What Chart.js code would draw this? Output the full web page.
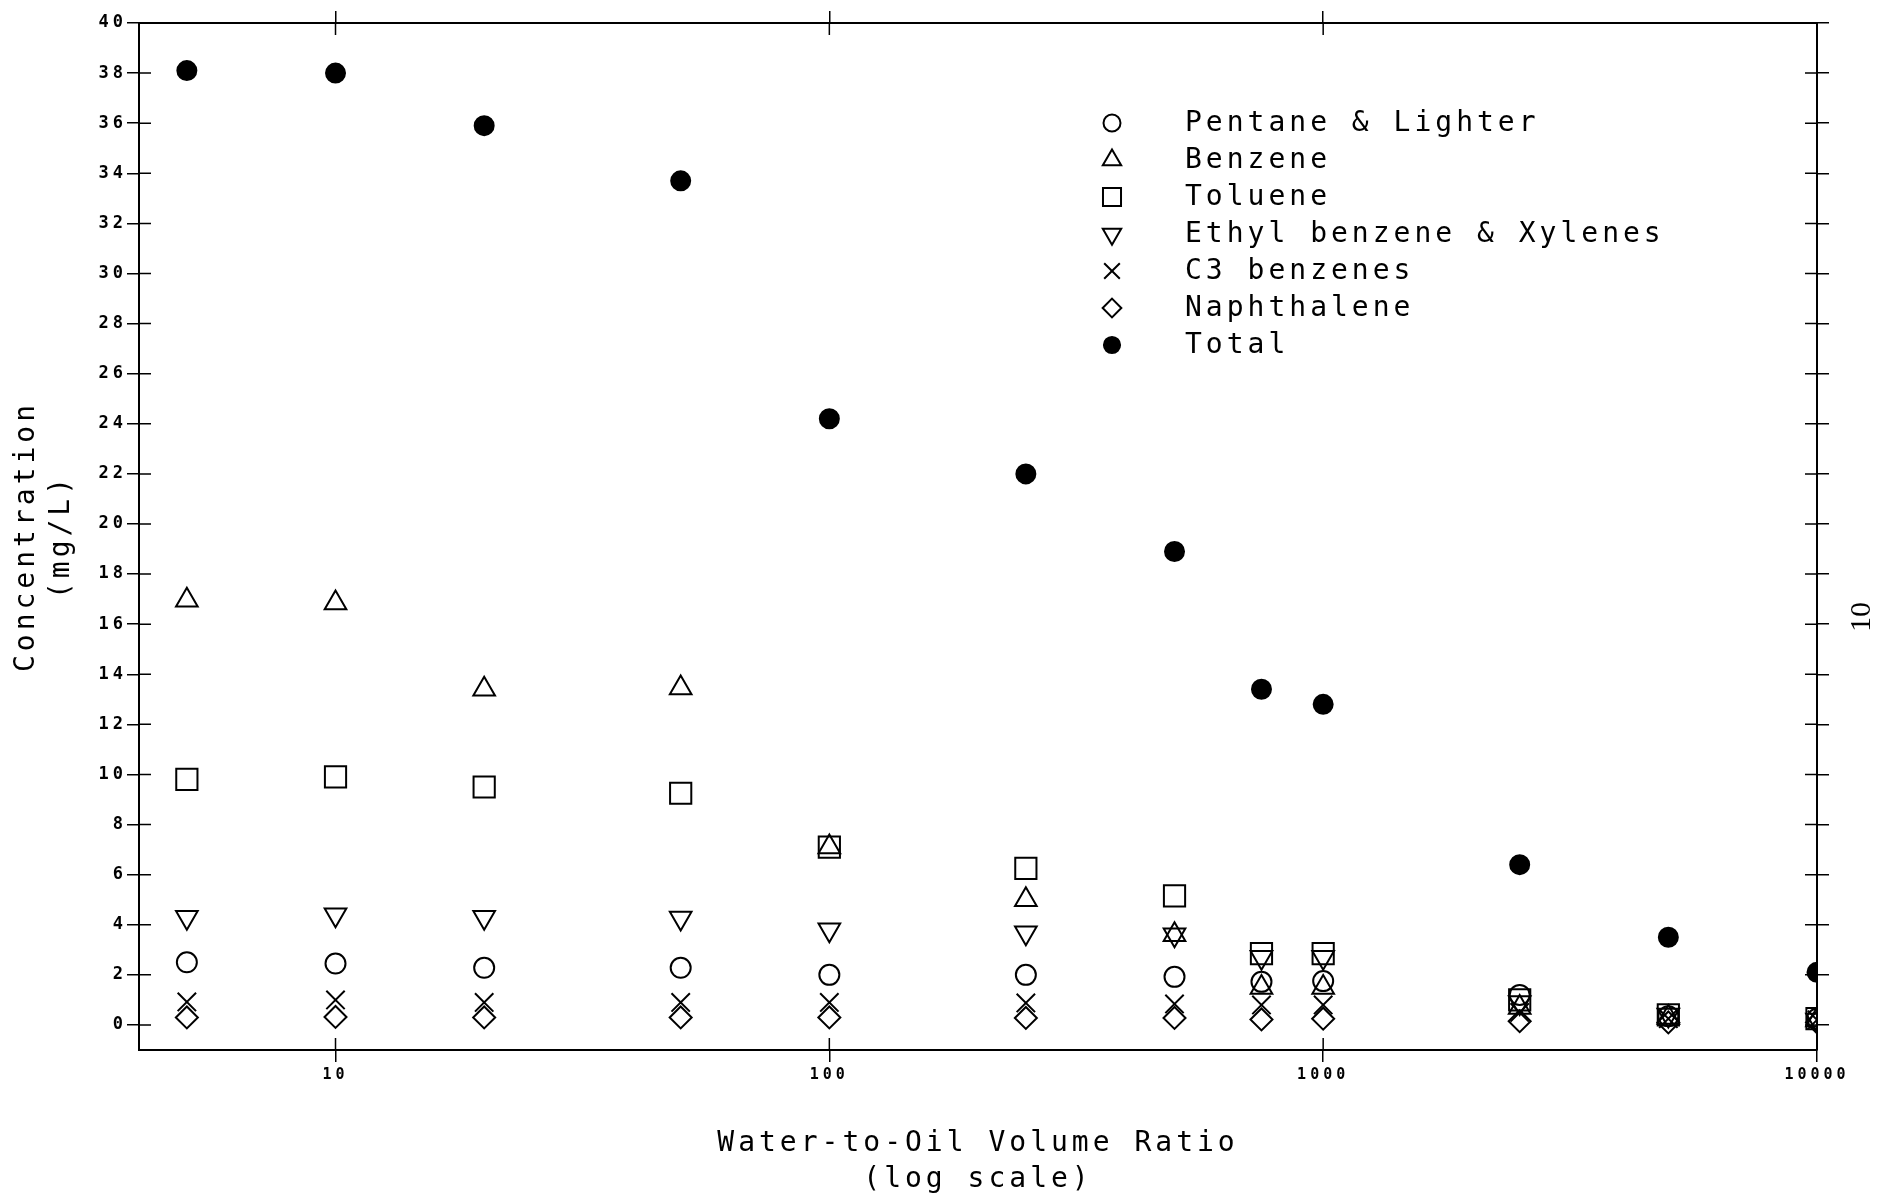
<!DOCTYPE html>
<html>
<head>
<meta charset="utf-8">
<title>Concentration vs Water-to-Oil Volume Ratio</title>
<script src="https://cdn.jsdelivr.net/npm/chart.js@4/dist/chart.umd.min.js"></script>
<style>
  html, body { margin: 0; padding: 0; background: #fff; }
  #wrap { width: 1896px; height: 1198px; position: relative; }
</style>
</head>
<body>
<div id="wrap"><canvas id="chart"></canvas></div>
<script>
// ─── Data ──────────────────────────────────────────────────────────────────
const ratios      = [5, 10, 20, 50, 100, 250, 500, 750, 1000, 2500, 5000, 10000];
const pentane     = [2.5, 2.45, 2.28, 2.28, 2.0, 2.0, 1.92, 1.72, 1.75, 1.2, 0.35, 0.25];
const benzene     = [16.95, 16.85, 13.4, 13.45, 7.1, 5.0, 3.6, 1.5, 1.5, 0.7, 0.3, 0.2];
const toluene     = [9.8, 9.9, 9.5, 9.25, 7.1, 6.25, 5.15, 2.85, 2.85, 1.0, 0.4, 0.25];
const ethyl       = [4.3, 4.4, 4.3, 4.27, 3.8, 3.68, 3.6, 2.7, 2.7, 0.9, 0.4, 0.2];
const c3          = [0.92, 1.0, 0.9, 0.9, 0.9, 0.88, 0.84, 0.8, 0.8, 0.5, 0.25, 0.2];
const naphthalene = [0.3, 0.32, 0.3, 0.3, 0.3, 0.28, 0.28, 0.22, 0.25, 0.15, 0.1, 0.1];
const total       = [38.1, 38.0, 35.9, 33.7, 24.2, 22.0, 18.9, 13.4, 12.8, 6.4, 3.5, 2.1];

const xTicksBottom = [10, 100, 1000, 10000];
const xTicksTop    = [10, 100, 1000];
const yTicks       = [0, 2, 4, 6, 8, 10, 12, 14, 16, 18, 20, 22, 24, 26, 28, 30, 32, 34, 36, 38, 40];

const FONT = '"DejaVu Sans Mono", "Liberation Mono", monospace';
const TICK = 12;

Chart.defaults.color = '#000';
Chart.defaults.font.family = FONT;

// marker look for each series (open symbols, filled dot for the total)
const series = [
  { label: 'Pentane & Lighter',       values: pentane,     style: 'circle',   radius: 10 },
  { label: 'Benzene',                 values: benzene,     style: 'triangle', radius: 12.5 },
  { label: 'Toluene',                 values: toluene,     style: 'rect',     radius: 15 },
  { label: 'Ethyl benzene & Xylenes', values: ethyl,       style: 'triangle', radius: 12.5, rotation: 180 },
  { label: 'C3 benzenes',             values: c3,          style: 'crossRot', radius: 13 },
  { label: 'Naphthalene',             values: naphthalene, style: 'rectRot',  radius: 11 },
  { label: 'Total',                   values: total,       style: 'circle',   radius: 9.5, filled: true },
];

const datasets = series.map(s => ({
  label: s.label,
  data: ratios.map((x, i) => ({ x, y: s.values[i] })),
  pointStyle: s.style,
  pointRadius: s.radius,
  pointRotation: s.rotation || 0,
  pointBorderWidth: 2,
  borderColor: '#000',
  backgroundColor: s.filled ? '#000' : 'rgba(0,0,0,0)',
  showLine: false,
  clip: 0,
}));

// plotter style lettering: wide spacing on every text
const plotterText = {
  id: 'plotterText',
  beforeDraw(chart) { chart.ctx.letterSpacing = '4px'; },
};

// ticks on the plotter axes cross the frame, so add the inner half
const innerTicks = {
  id: 'innerTicks',
  afterDraw(chart) {
    const { ctx, chartArea: a, scales } = chart;
    ctx.save();
    ctx.strokeStyle = '#000';
    ctx.lineWidth = 1.5;
    ctx.beginPath();
    scales.y.ticks.forEach(t => {
      const p = scales.y.getPixelForValue(t.value);
      ctx.moveTo(a.left, p);  ctx.lineTo(a.left + TICK, p);
      ctx.moveTo(a.right, p); ctx.lineTo(a.right - TICK, p);
    });
    scales.x.ticks.forEach(t => {
      const p = scales.x.getPixelForValue(t.value);
      ctx.moveTo(p, a.bottom); ctx.lineTo(p, a.bottom - TICK);
    });
    scales.x2.ticks.forEach(t => {
      const p = scales.x2.getPixelForValue(t.value);
      ctx.moveTo(p, a.top); ctx.lineTo(p, a.top + TICK);
    });
    ctx.stroke();
    ctx.restore();
  }
};

// legend sits inside the plot, upper right, one entry per line
const legendBox = {
  id: 'legendBox',
  afterDraw(chart) {
    const { ctx, chartArea } = chart;
    const mx = chartArea.left + 973;
    const y0 = chartArea.top + 100;
    ctx.save();
    ctx.letterSpacing = '4px';
    ctx.font = `28px ${FONT}`;
    ctx.textBaseline = 'middle';
    chart.data.datasets.forEach((ds, i) => {
      const y = y0 + i * 37;
      ctx.strokeStyle = '#000';
      ctx.lineWidth = 2;
      ctx.fillStyle = ds.backgroundColor;
      Chart.helpers.drawPoint(ctx, {
        pointStyle: ds.pointStyle,
        radius: ds.pointRadius * 0.85,
        rotation: ds.pointRotation,
        borderWidth: 2,
      }, mx, y);
      ctx.fillStyle = '#000';
      ctx.fillText(ds.label, mx + 73, y + 1);
    });
    ctx.restore();
  }
};

// page number printed sideways at the right margin
const pageNumber = {
  id: 'pageNumber',
  afterDraw(chart) {
    const ctx = chart.ctx;
    ctx.save();
    ctx.letterSpacing = '0px';
    ctx.translate(1862, 617);
    ctx.rotate(-Math.PI / 2);
    ctx.font = '30px "Liberation Serif", serif';
    ctx.fillStyle = '#000';
    ctx.textAlign = 'center';
    ctx.textBaseline = 'middle';
    ctx.fillText('10', 0, 0);
    ctx.restore();
  }
};

const axisGrid = { drawOnChartArea: false, drawTicks: true, tickLength: TICK, color: '#000', lineWidth: 1.5 };
const axisBorder = { display: true, color: '#000', width: 2 };

new Chart(document.getElementById('chart'), {
  type: 'scatter',
  data: { datasets },
  options: {
    responsive: true,
    maintainAspectRatio: false,
    animation: false,
    events: [],
    layout: { padding: 0 },
    plugins: {
      legend: { display: false },
      tooltip: { enabled: false },
    },
    scales: {
      x: {
        type: 'logarithmic',
        position: 'bottom',
        min: 4,
        max: 10000,
        afterBuildTicks: s => { s.ticks = xTicksBottom.map(v => ({ value: v })); },
        afterFit: s => { s.height = 148; },
        ticks: {
          callback: v => String(v),
          font: { size: 15, weight: 'bold' },
          padding: 4,
          maxRotation: 0,
          autoSkip: false,
        },
        grid: axisGrid,
        border: axisBorder,
        title: {
          display: true,
          text: ['Water-to-Oil Volume Ratio', '(log scale)'],
          font: { size: 28, lineHeight: 36 / 28 },
          padding: { top: 0, bottom: 0 },
        },
      },
      x2: {
        type: 'logarithmic',
        position: 'top',
        min: 4,
        max: 10000,
        afterBuildTicks: s => { s.ticks = xTicksTop.map(v => ({ value: v })); },
        afterFit: s => { s.height = 23; },
        ticks: { display: false },
        grid: axisGrid,
        border: axisBorder,
      },
      y: {
        type: 'linear',
        position: 'left',
        min: -1,
        max: 40,
        afterBuildTicks: s => { s.ticks = yTicks.map(v => ({ value: v })); },
        afterFit: s => { s.width = 139; },
        ticks: {
          callback: v => String(v),
          font: { size: 17, weight: 'bold' },
          padding: 0,
          autoSkip: false,
        },
        grid: axisGrid,
        border: axisBorder,
        title: {
          display: true,
          text: ['Concentration', '(mg/L)'],
          font: { size: 28, lineHeight: 35 / 28 },
          padding: { top: 9, bottom: 0 },
        },
      },
      y2: {
        type: 'linear',
        position: 'right',
        min: -1,
        max: 40,
        afterBuildTicks: s => { s.ticks = yTicks.map(v => ({ value: v })); },
        afterFit: s => { s.width = 79; },
        ticks: { display: false },
        grid: axisGrid,
        border: axisBorder,
      },
    },
  },
  plugins: [plotterText, innerTicks, legendBox, pageNumber],
});
</script>
</body>
</html>
